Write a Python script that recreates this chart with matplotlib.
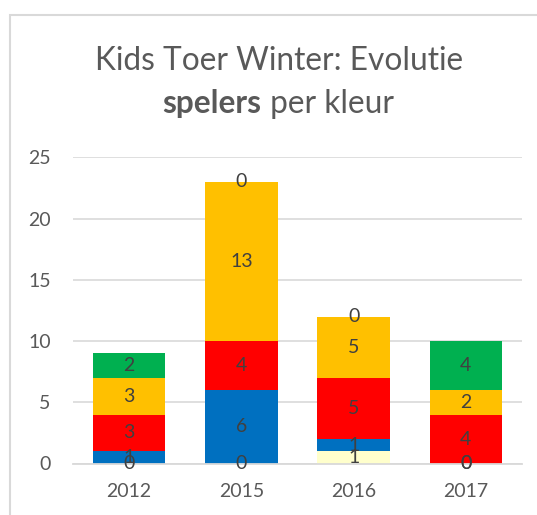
import matplotlib
matplotlib.use("Agg")
import matplotlib.pyplot as plt
from matplotlib.patches import Rectangle

years = ["2012", "2015", "2016", "2017"]
series_names = ["Wit", "Blauw", "Rood", "Geel", "Groen"]
wit = [0, 0, 1, 0]
blauw = [1, 6, 1, 0]
rood = [3, 4, 5, 4]
geel = [3, 13, 5, 2]
groen = [2, 0, 0, 4]
series = [wit, blauw, rood, geel, groen]
colors = ["#FFFFCC", "#0070C0", "#FF0000", "#FFC000", "#00B050"]
yticks = [0, 5, 10, 15, 20, 25]

plt.rcParams['font.family'] = ['Lato', 'DejaVu Sans']
W, H = 537, 515
fig = plt.figure(figsize=(W / 100, H / 100), dpi=100)

# outer chart frame
fig.patches.append(Rectangle((10 / W, -0.1), 2, (H - 15) / H + 0.1,
                             transform=fig.transFigure, fill=False,
                             edgecolor="#d9d9d9", linewidth=1.5))

ax = fig.add_axes([73 / W, (H - 463.5) / H, (522 - 73) / W, (463.5 - 157.3) / H])
x = list(range(len(years)))
bottom = [0] * len(years)
for vals, col in zip(series, colors):
    ax.bar(x, vals, bottom=bottom, color=col, width=0.645, zorder=2)
    for i, v in enumerate(vals):
        ax.text(x[i], bottom[i] + v / 2, str(v), ha="center", va="center",
                fontsize=14, color="#404040", zorder=3)
    bottom = [b + v for b, v in zip(bottom, vals)]

ax.set_xlim(-0.5, len(years) - 0.5)
ax.set_ylim(0, 25)
ax.set_yticks(yticks)
ax.set_yticklabels([str(t) for t in yticks])
ax.set_xticks(x)
ax.set_xticklabels(years)
ax.yaxis.grid(True, color="#d9d9d9", linewidth=1.2, zorder=0)
ax.set_axisbelow(True)
for s in ["top", "right", "left"]:
    ax.spines[s].set_visible(False)
ax.spines["bottom"].set_color("#d9d9d9")
ax.spines["bottom"].set_linewidth(1.3)
ax.tick_params(axis="both", length=0, labelsize=14, labelcolor="#595959")
ax.tick_params(axis="y", pad=16)
ax.tick_params(axis="x", pad=14)

# title
TS = 22.8
fig.text(279 / W, 1 - 61 / H, "Kids Toer Winter: Evolutie", ha="center", va="center",
         fontsize=TS, color="#595959")
renderer = fig.canvas.get_renderer()
t1 = fig.text(0, 1 - 104 / H, "spelers", ha="left", va="center", fontsize=TS,
              fontweight="bold", color="#595959")
t2 = fig.text(0, 1 - 104 / H, " per kleur", ha="left", va="center", fontsize=TS,
              color="#595959")
w1 = t1.get_window_extent(renderer).width
w2 = t2.get_window_extent(renderer).width
start = 278 - (w1 + w2) / 2
t1.set_x(start / W)
t2.set_x((start + w1) / W)

fig.savefig("out.png", dpi=100)
